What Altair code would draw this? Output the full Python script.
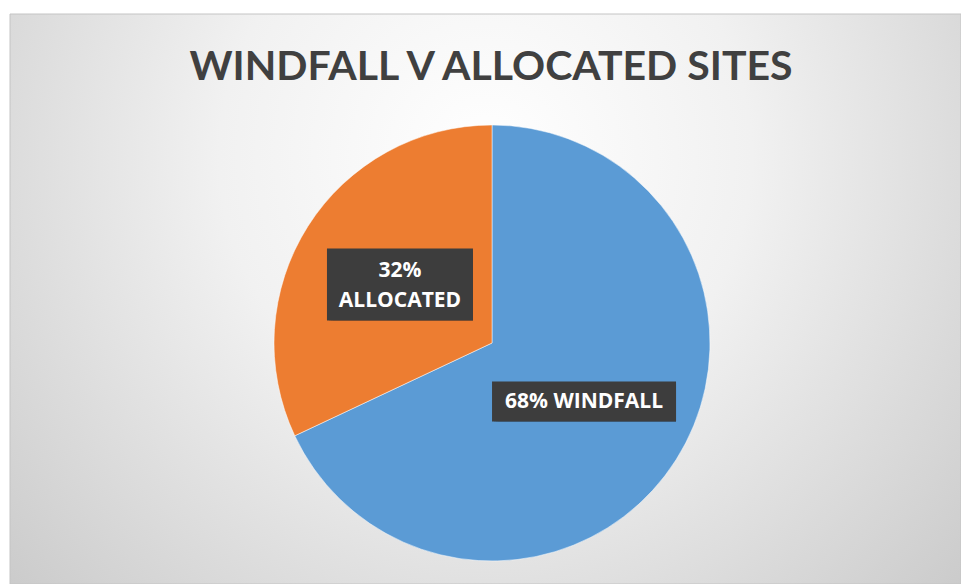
import altair as alt
import pandas as pd
import numpy as np

# ---- data ----
categories = ["WINDFALL", "ALLOCATED"]
shares = [68, 32]
label_lines = [["68% WINDFALL"], ["32%", "ALLOCATED"]]
colors = ["#5B9BD5", "#ED7D31"]
title_text = "WINDFALL V ALLOCATED SITES"

# ---- layout ----
W, H = 951, 570
CX, CY, R = 482, 329, 218
BOX_W = [184, 146]
BOX_H = [40, 72]
LH = 30

df = pd.DataFrame({"category": categories, "share": shares, "order": list(range(len(categories)))})
frac = np.array(shares, dtype=float) / sum(shares)
start = np.concatenate([[0.0], np.cumsum(frac)[:-1]])
mid = (start + frac / 2) * 2 * np.pi
df["lx"] = CX + 0.5 * R * np.sin(mid)
df["ly"] = CY - 0.5 * R * np.cos(mid)
df["label"] = label_lines
nlines = np.array([len(l) for l in label_lines])
df["ty"] = df["ly"] - (nlines - 1) * LH / 2 + 1
df["bx1"] = df["lx"] - np.array(BOX_W) / 2
df["bx2"] = df["lx"] + np.array(BOX_W) / 2
df["by1"] = df["ly"] - np.array(BOX_H) / 2
df["by2"] = df["ly"] + np.array(BOX_H) / 2

one = pd.DataFrame({"a": [0]})

bg = alt.Chart(one).mark_rect(
    fill={
        "gradient": "radial",
        "stops": [
            {"offset": 0, "color": "#ffffff"},
            {"offset": 0.35, "color": "#f1f1f1"},
            {"offset": 1, "color": "#bfbfbf"},
        ],
        "x1": 0.5, "y1": 0.35, "r1": 0,
        "x2": 0.5, "y2": 0.35, "r2": 0.8,
    },
    stroke="#c4c4c4",
    strokeWidth=1,
).encode(x=alt.value(0), x2=alt.value(W), y=alt.value(0), y2=alt.value(H))

pie = alt.Chart(df).mark_arc(radius=R, stroke="white", strokeWidth=0.5).encode(
    theta=alt.Theta("share:Q", stack=True),
    color=alt.Color("category:N", scale=alt.Scale(domain=categories, range=colors), legend=None),
    order=alt.Order("order:Q"),
    x=alt.value(CX),
    y=alt.value(CY),
)

shadows = []
for off, op in [(2, 0.25), (4, 0.18), (6, 0.1)]:
    shadows.append(
        alt.Chart(df).mark_rect(color="#000000", opacity=op).encode(
            x=alt.X("bx1:Q", scale=None, axis=None),
            x2="bx2:Q",
            y=alt.Y("by1:Q", scale=None, axis=None),
            y2="by2:Q",
            xOffset=alt.value(off),
            yOffset=alt.value(off),
        )
    )

boxes = alt.Chart(df).mark_rect(color="#3d3d3d").encode(
    x=alt.X("bx1:Q", scale=None, axis=None),
    x2="bx2:Q",
    y=alt.Y("by1:Q", scale=None, axis=None),
    y2="by2:Q",
)

labels = alt.Chart(df).mark_text(
    color="white", font="Open Sans", fontWeight="bold", fontSize=21,
    lineHeight=LH, align="center", baseline="middle",
).encode(
    x=alt.X("lx:Q", scale=None, axis=None),
    y=alt.Y("ty:Q", scale=None, axis=None),
    text="label",
)

title = alt.Chart(pd.DataFrame({"t": [title_text]})).mark_text(
    font="Lato", fontWeight="bold", fontSize=41,
    color="#404040", align="center", baseline="alphabetic",
).encode(x=alt.value(481), y=alt.value(66), text="t:N")

chart = alt.layer(bg, pie, *shadows, boxes, labels, title).properties(
    width=W, height=H,
    autosize=alt.AutoSizeParams(type="none"),
    padding={"left": 10, "top": 14, "right": 0, "bottom": 0},
    background="white",
).configure_view(stroke=None)

chart.save("out.html", embed_options={"renderer": "svg", "actions": False})
